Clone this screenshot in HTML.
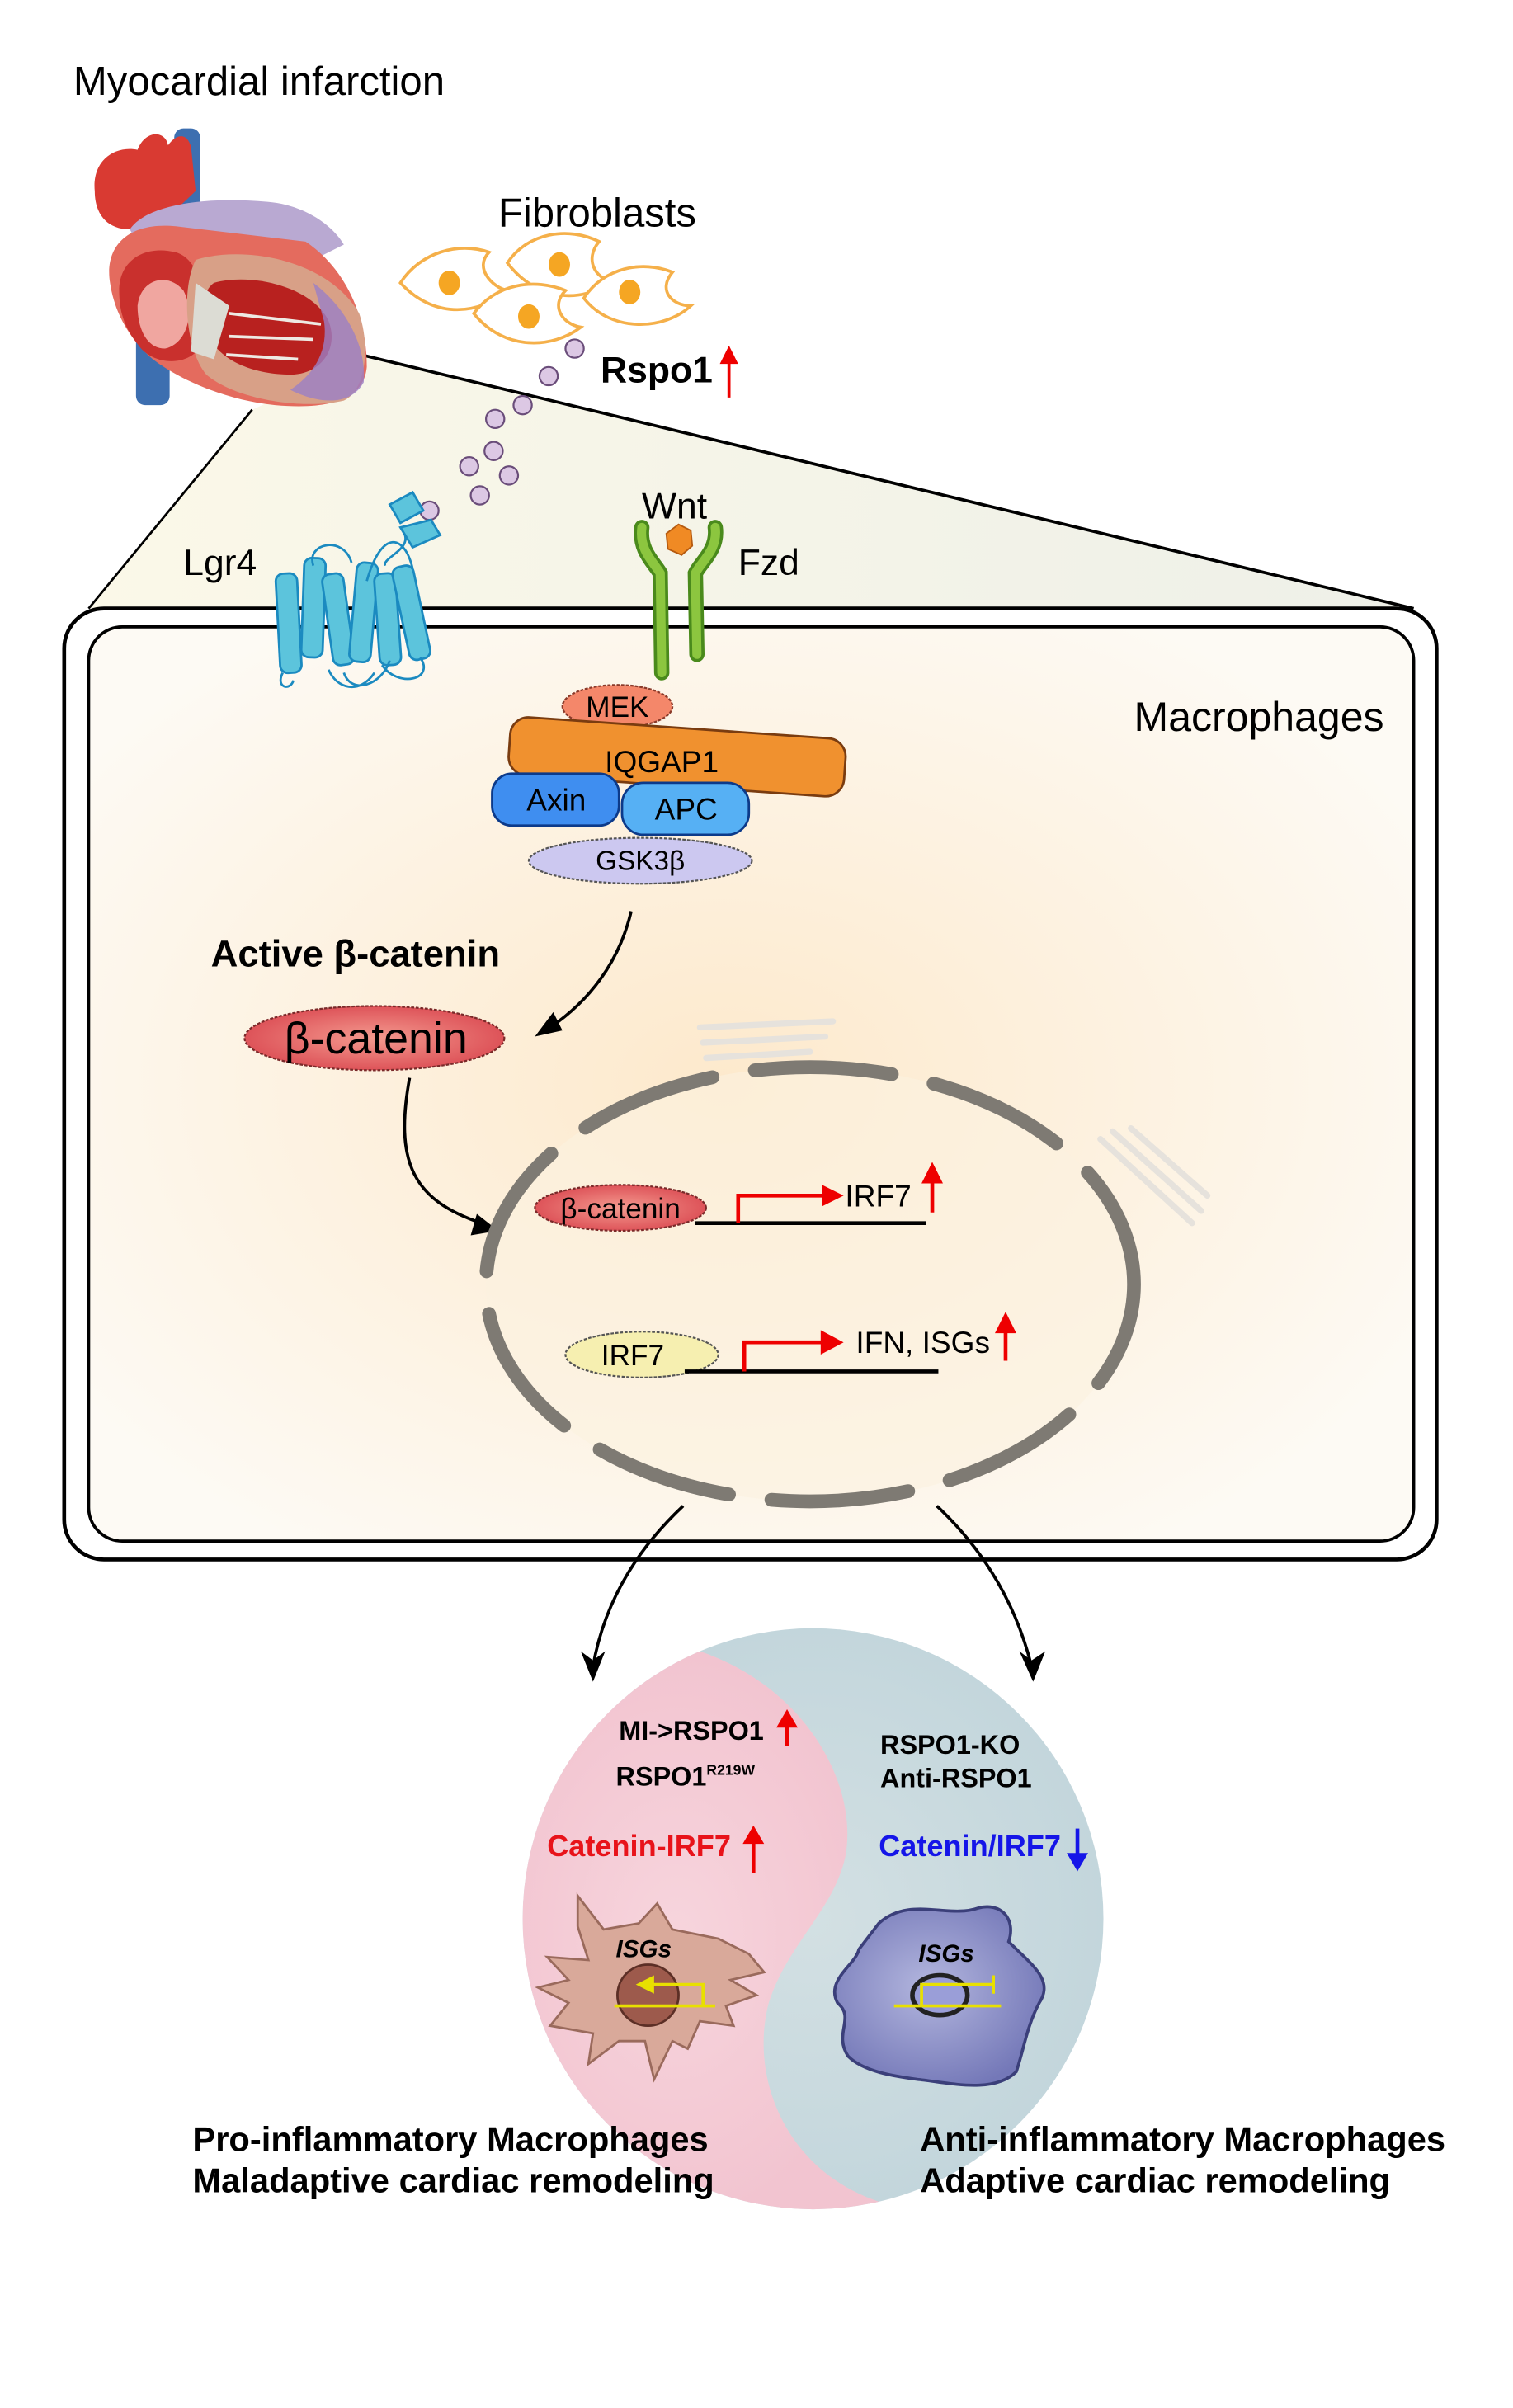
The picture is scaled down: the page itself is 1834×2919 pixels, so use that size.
<!DOCTYPE html>
<html><head><meta charset="utf-8"><style>
html,body{margin:0;padding:0;background:#fff;}
svg{display:block;}
text{font-family:"Liberation Sans",Arial,sans-serif;}
</style></head><body>
<svg width="1834" height="2919" viewBox="0 0 990 1575" preserveAspectRatio="none" xmlns="http://www.w3.org/2000/svg">
<defs>
<radialGradient id="cellg" cx="0.48" cy="0.5" r="0.6">
<stop offset="0" stop-color="#fde9cc"/><stop offset="1" stop-color="#fdfaf4"/>
</radialGradient>
<linearGradient id="trig" x1="0" y1="0" x2="1" y2="0">
<stop offset="0" stop-color="#fbf8e8"/><stop offset="1" stop-color="#eef0e8"/>
</linearGradient>
<radialGradient id="pinkg" cx="0.5" cy="0.5" r="0.5">
<stop offset="0" stop-color="#f7d5dd"/><stop offset="1" stop-color="#f2c4d0"/>
</radialGradient>
<radialGradient id="blueg" cx="0.5" cy="0.5" r="0.5">
<stop offset="0" stop-color="#d3e0e3"/><stop offset="1" stop-color="#c3d6dc"/>
</radialGradient>
<radialGradient id="becat" cx="0.5" cy="0.5" r="0.6">
<stop offset="0" stop-color="#f49a8f"/><stop offset="1" stop-color="#d9454e"/>
</radialGradient>
<radialGradient id="bluecell" cx="0.45" cy="0.45" r="0.6">
<stop offset="0" stop-color="#b3b6de"/><stop offset="1" stop-color="#7478b8"/>
</radialGradient>
<clipPath id="yy"><circle cx="532" cy="1255" r="190"/></clipPath>
</defs>

<text x="48" y="62" font-size="26.5">Myocardial infarction</text>

<polygon points="240,233 925,398 58,398 165,268" fill="url(#trig)"/>
<line x1="232" y1="231" x2="925" y2="398" stroke="#000" stroke-width="2"/>
<line x1="165" y1="268" x2="58" y2="398" stroke="#000" stroke-width="1.5"/>

<g>
<rect x="89" y="210" width="22" height="55" rx="6" fill="#3d6fb0"/>
<rect x="114" y="84" width="17" height="55" rx="6" fill="#3d6fb0"/>
<path d="M62,125 C60,105 75,95 90,98 C95,85 108,85 110,95 C115,88 122,86 125,96 L128,125 L110,142 L85,150 C70,150 62,140 62,125Z" fill="#d93a32"/>
<path d="M85,150 C95,135 130,128 175,132 C200,134 218,148 225,160 L205,170 L120,178 L95,170Z" fill="#b9a9d2"/>
<path d="M72,185 C68,160 85,145 115,148 L200,158 C225,175 240,205 240,240 C238,262 215,268 180,265 C150,262 120,250 100,235 C85,222 75,205 72,185Z" fill="#e46b5e"/>
<path d="M78,190 C78,170 95,160 115,165 C132,170 138,200 132,225 C125,240 100,240 90,225 C82,215 78,205 78,190Z" fill="#c9302d"/>
<path d="M90,200 C92,182 110,178 120,190 C128,205 122,225 108,228 C96,228 90,215 90,200Z" fill="#f0a6a0"/>
<path d="M128,170 C160,160 215,170 235,205 C242,225 240,255 225,262 C200,268 155,262 135,245 C122,230 118,190 128,170Z" fill="#d8a087"/>
<path d="M140,185 C165,178 205,188 215,210 C222,228 210,245 190,245 C165,245 140,235 135,215 C132,200 133,190 140,185Z" fill="#b8211f"/>
<path d="M205,185 C225,200 240,225 238,250 C230,265 210,265 190,255 C205,245 215,230 212,210Z" fill="#9b7fc6" opacity="0.8"/>
<path d="M128,185 L150,200 L140,235 L125,230Z" fill="#dcdcd4"/>
<path d="M150,205 L210,212 M150,220 L205,222 M148,232 L195,235" stroke="#eeeae4" stroke-width="2"/>
</g>

<g fill="#fff" stroke="#f5b04a" stroke-width="2">
<path d="M262,185 C275,165 300,158 320,165 C310,175 322,188 332,190 C315,205 285,210 262,185Z"/>
<path d="M332,172 C345,152 372,148 392,158 C382,170 390,182 400,184 C382,198 352,198 332,172Z"/>
<path d="M310,205 C325,185 350,182 370,190 C360,200 368,212 380,214 C362,228 330,230 310,205Z"/>
<path d="M382,195 C395,175 420,170 440,178 C430,190 440,200 452,200 C435,216 400,218 382,195Z"/>
</g>
<g fill="#f5a623">
<ellipse cx="294" cy="185" rx="7" ry="8"/><ellipse cx="366" cy="173" rx="7" ry="8"/>
<ellipse cx="346" cy="207" rx="7" ry="8"/><ellipse cx="412" cy="191" rx="7" ry="8"/>
</g>
<text x="326" y="148" font-size="26.5">Fibroblasts</text>
<text x="393" y="250" font-size="24" font-weight="bold">Rspo1</text>
<line x1="477" y1="260" x2="477" y2="232" stroke="#e00" stroke-width="2"/>
<polygon points="471,238 477,226 483,238" fill="#e00"/>

<g fill="#dcc8e4" stroke="#6a4d7a" stroke-width="1.2">
<circle cx="376" cy="228" r="6"/><circle cx="359" cy="246" r="6"/>
<circle cx="342" cy="265" r="6"/><circle cx="324" cy="274" r="6"/>
<circle cx="323" cy="295" r="6"/><circle cx="307" cy="305" r="6"/>
<circle cx="333" cy="311" r="6"/><circle cx="314" cy="324" r="6"/>
<circle cx="281" cy="334" r="6"/>
</g>

<rect x="42" y="398" width="898" height="622" rx="26" fill="#fff" stroke="#000" stroke-width="2.5"/>
<rect x="58" y="410" width="867" height="598" rx="22" fill="url(#cellg)" stroke="#000" stroke-width="2"/>

<text x="120" y="376" font-size="24">Lgr4</text>
<g fill="#5cc4dc" stroke="#1b8ac0" stroke-width="1.5">
<path d="M255,330 L270,322 L277,334 L262,342 Z"/>
<path d="M262,345 L282,340 L288,350 L270,358 Z"/>
<g transform="rotate(-3 190 410)"><rect x="182" y="375" width="14" height="65" rx="5"/></g>
<g transform="rotate(2 205 400)"><rect x="198" y="365" width="14" height="65" rx="5"/></g>
<g transform="rotate(-8 222 410)"><rect x="215" y="375" width="14" height="60" rx="5"/></g>
<g transform="rotate(5 238 400)"><rect x="231" y="368" width="14" height="65" rx="5"/></g>
<g transform="rotate(-4 254 410)"><rect x="247" y="375" width="14" height="60" rx="5"/></g>
<g transform="rotate(-12 268 400)"><rect x="262" y="370" width="14" height="62" rx="5"/></g>
</g>
<path d="M185,440 C180,450 190,452 192,445 M205,370 C200,355 225,350 230,368 M240,380 C250,345 265,350 270,372 M265,350 C268,360 250,365 252,370 M225,440 C230,455 250,448 255,432 M215,438 C220,450 235,455 245,440 M275,430 C285,445 260,450 250,435" fill="none" stroke="#1b8ac0" stroke-width="1.5"/>

<text x="420" y="339" font-size="24">Wnt</text>
<text x="483" y="376" font-size="24">Fzd</text>
<path d="M420,345 C418,360 428,368 432,375 L433,440" fill="none" stroke="#4a8a1c" stroke-width="10" stroke-linecap="round"/>
<path d="M420,345 C418,360 428,368 432,375 L433,440" fill="none" stroke="#8cc63f" stroke-width="6" stroke-linecap="round"/>
<path d="M468,345 C470,360 458,368 455,375 L456,428" fill="none" stroke="#4a8a1c" stroke-width="10" stroke-linecap="round"/>
<path d="M468,345 C470,360 458,368 455,375 L456,428" fill="none" stroke="#8cc63f" stroke-width="6" stroke-linecap="round"/>
<polygon points="444,343 452,347 453,357 446,363 437,359 436,349" fill="#f08a24" stroke="#b55a10" stroke-width="1"/>

<ellipse cx="404" cy="462" rx="36" ry="14" fill="#f4876a" stroke="#8a3a2a" stroke-width="1.2" stroke-dasharray="2 1"/>
<text x="404" y="469" font-size="19" text-anchor="middle">MEK</text>
<g transform="rotate(4 443 496)">
<rect x="333" y="476" width="220" height="38" rx="12" fill="#f0912f" stroke="#7a3c10" stroke-width="1.5"/>
</g>
<text x="433" y="505" font-size="20" text-anchor="middle">IQGAP1</text>
<rect x="322" y="506" width="83" height="34" rx="13" fill="#3f8ef0" stroke="#0c3a8a" stroke-width="1.5"/>
<text x="364" y="530" font-size="20" text-anchor="middle">Axin</text>
<rect x="407" y="512" width="83" height="34" rx="14" fill="#56b0f4" stroke="#0c3a8a" stroke-width="1.5"/>
<text x="449" y="536" font-size="20" text-anchor="middle">APC</text>
<ellipse cx="419" cy="563" rx="73" ry="15" fill="#ccc8f0" stroke="#555" stroke-width="1.2" stroke-dasharray="2 1"/>
<text x="419" y="569" font-size="18" text-anchor="middle">GSK3β</text>

<text x="742" y="478" font-size="27">Macrophages</text>
<text x="138" y="632" font-size="24.5" font-weight="bold">Active β-catenin</text>

<path d="M413,596 C405,630 385,655 360,672" fill="none" stroke="#000" stroke-width="2"/>
<polygon points="350,678 362,662 368,674" fill="#000"/>
<ellipse cx="245" cy="679" rx="85" ry="21" fill="url(#becat)" stroke="#7a2a2a" stroke-width="1.2" stroke-dasharray="2 1"/>
<text x="246" y="689" font-size="29" text-anchor="middle">β-catenin</text>
<path d="M268,705 C258,760 270,785 315,800" fill="none" stroke="#000" stroke-width="2"/>
<polygon points="326,805 308,808 312,794" fill="#000"/>

<g stroke="#e6e2dc" stroke-width="4" fill="none" stroke-linecap="round">
<path d="M458,672 L545,668 M460,682 L540,678 M462,692 L530,688"/>
<path d="M720,745 L780,800 M728,740 L786,792 M740,738 L790,782"/>
</g>

<ellipse cx="530" cy="840" rx="212" ry="142" fill="#fcf1e0" fill-opacity="0.6" stroke="#7e7a73" stroke-width="9" stroke-linecap="round" stroke-dasharray="90 28" stroke-dashoffset="20"/>

<ellipse cx="406" cy="790" rx="56" ry="15" fill="url(#becat)" stroke="#7a2a2a" stroke-width="1.2" stroke-dasharray="2 1"/>
<text x="406" y="797" font-size="19" text-anchor="middle">β-catenin</text>
<line x1="455" y1="800" x2="606" y2="800" stroke="#000" stroke-width="2.5"/>
<path d="M483,800 L483,782 L540,782" fill="none" stroke="#e00" stroke-width="2.5"/>
<polygon points="538,775 552,782 538,789" fill="#e00"/>
<text x="553" y="789" font-size="20">IRF7</text>
<line x1="610" y1="793" x2="610" y2="768" stroke="#e00" stroke-width="2.5"/>
<polygon points="603,774 610,760 617,774" fill="#e00"/>

<ellipse cx="420" cy="886" rx="50" ry="15" fill="#f6efb0" stroke="#555" stroke-width="1.2" stroke-dasharray="2 1"/>
<text x="414" y="893" font-size="19" text-anchor="middle">IRF7</text>
<line x1="448" y1="897" x2="614" y2="897" stroke="#000" stroke-width="2.5"/>
<path d="M487,897 L487,878 L540,878" fill="none" stroke="#e00" stroke-width="2.5"/>
<polygon points="537,870 552,878 537,886" fill="#e00"/>
<text x="560" y="885" font-size="20">IFN, ISGs</text>
<line x1="658" y1="890" x2="658" y2="866" stroke="#e00" stroke-width="2.5"/>
<polygon points="651,872 658,858 665,872" fill="#e00"/>

<path d="M447,985 C415,1015 395,1050 388,1090" fill="none" stroke="#000" stroke-width="2"/>
<polygon points="388,1100 380,1080 388,1086 396,1080" fill="#000"/>
<path d="M613,985 C645,1015 665,1050 675,1090" fill="none" stroke="#000" stroke-width="2"/>
<polygon points="676,1100 667,1080 675,1086 684,1080" fill="#000"/>

<!-- yin yang -->
<circle cx="532" cy="1255" r="190" fill="url(#blueg)"/>
<g clip-path="url(#yy)">
<path d="M458,1080 A190,190 0 1 0 575,1440 C515,1420 490,1360 503,1310 C515,1272 545,1250 553,1215 C562,1170 530,1105 458,1080 Z" fill="url(#pinkg)"/>
</g>

<path d="M378,1240 L395,1262 L418,1258 L430,1245 L440,1262 L470,1268 L490,1278 L500,1290 L478,1295 L495,1305 L475,1312 L480,1325 L458,1322 L450,1340 L440,1335 L428,1360 L422,1335 L405,1335 L385,1350 L388,1330 L360,1325 L372,1310 L352,1300 L372,1295 L358,1280 L385,1282 L378,1260 Z" fill="#d9a99a" stroke="#9a6a5c" stroke-width="1.5"/>
<circle cx="424" cy="1305" r="20" fill="#9d5a4c" stroke="#5c2f26" stroke-width="1.5"/>
<text x="403" y="1280" font-size="16" font-weight="bold" font-style="italic">ISGs</text>
<line x1="402" y1="1312" x2="468" y2="1312" stroke="#e8e000" stroke-width="2"/>
<path d="M460,1312 L460,1298 L425,1298" fill="none" stroke="#e8e000" stroke-width="2"/>
<polygon points="428,1292 416,1298 428,1304" fill="#e8e000"/>

<path d="M575,1258 C595,1240 620,1255 640,1248 C655,1244 665,1255 660,1270 C675,1285 690,1295 680,1310 C672,1325 670,1340 665,1355 C650,1370 620,1362 600,1360 C585,1358 565,1355 555,1345 C545,1330 560,1320 548,1310 C540,1295 560,1285 562,1275 Z" fill="url(#bluecell)" stroke="#3b3f7a" stroke-width="2"/>
<ellipse cx="615" cy="1305" rx="18" ry="13" fill="#9a9ed8" stroke="#222" stroke-width="3"/>
<text x="601" y="1283" font-size="16" font-weight="bold" font-style="italic">ISGs</text>
<line x1="585" y1="1312" x2="655" y2="1312" stroke="#e8e000" stroke-width="2"/>
<path d="M603,1312 L603,1298 L650,1298 M650,1292 L650,1304" fill="none" stroke="#e8e000" stroke-width="2"/>

<text x="405" y="1138" font-size="17.5" font-weight="bold">MI-&gt;RSPO1</text>
<line x1="515" y1="1142" x2="515" y2="1124" stroke="#e00" stroke-width="2.5"/>
<polygon points="508,1130 515,1118 522,1130" fill="#e00"/>
<text x="403" y="1168" font-size="17.5" font-weight="bold">RSPO1<tspan font-size="9.5" dy="-7">R219W</tspan></text>
<text x="358" y="1214" font-size="19.5" font-weight="bold" fill="#e8131a">Catenin-IRF7</text>
<line x1="493" y1="1225" x2="493" y2="1200" stroke="#e00" stroke-width="2.5"/>
<polygon points="486,1206 493,1194 500,1206" fill="#e00"/>
<text x="576" y="1147" font-size="17.5" font-weight="bold">RSPO1-KO</text>
<text x="576" y="1169" font-size="17.5" font-weight="bold">Anti-RSPO1</text>
<text x="575" y="1214" font-size="19.5" font-weight="bold" fill="#1515e8">Catenin/IRF7</text>
<line x1="705" y1="1196" x2="705" y2="1218" stroke="#1515e8" stroke-width="2.5"/>
<polygon points="698,1212 705,1224 712,1212" fill="#1515e8"/>

<text x="126" y="1407" font-size="22.5" font-weight="bold">Pro-inflammatory Macrophages</text>
<text x="126" y="1434" font-size="22.5" font-weight="bold">Maladaptive cardiac remodeling</text>
<text x="602" y="1407" font-size="22.5" font-weight="bold">Anti-inflammatory Macrophages</text>
<text x="602" y="1434" font-size="22.5" font-weight="bold">Adaptive cardiac remodeling</text>
</svg>
</body></html>
